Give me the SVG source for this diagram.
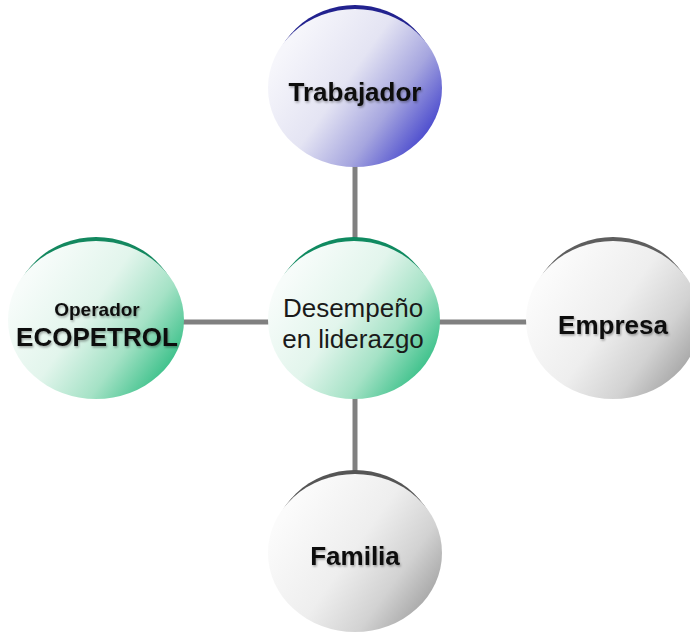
<svg xmlns="http://www.w3.org/2000/svg" width="690" height="634" viewBox="0 0 690 634">
<style>
.conn{stroke:#808080;stroke-width:5;fill:none}
.lbl{font-family:"Liberation Sans",Arial,sans-serif;font-weight:bold;font-size:26px;fill:#111;text-anchor:middle;filter:url(#sh)}
.ctr{font-family:"Liberation Sans",Arial,sans-serif;font-size:26px;fill:#1a1a1a;text-anchor:middle}
</style>
<defs>
<linearGradient id="gBlue" x1="0.1" y1="0.25" x2="0.95" y2="0.8">
<stop offset="0" stop-color="#f6f6fb"/>
<stop offset="0.4" stop-color="#e4e4f3"/>
<stop offset="0.7" stop-color="#a6a6df"/>
<stop offset="1" stop-color="#4343cc"/>
</linearGradient>
<linearGradient id="gGreen" x1="0.1" y1="0.25" x2="0.95" y2="0.8">
<stop offset="0" stop-color="#f7fcfa"/>
<stop offset="0.4" stop-color="#e2f5ec"/>
<stop offset="0.7" stop-color="#a5e2c6"/>
<stop offset="1" stop-color="#33be85"/>
</linearGradient>
<linearGradient id="gGray" x1="0.1" y1="0.25" x2="0.95" y2="0.8">
<stop offset="0" stop-color="#fbfbfb"/>
<stop offset="0.45" stop-color="#eeeeee"/>
<stop offset="0.75" stop-color="#d2d2d2"/>
<stop offset="1" stop-color="#a4a4a4"/>
</linearGradient>
<filter id="sh" x="-10%" y="-20%" width="120%" height="150%">
<feDropShadow dx="1" dy="1.5" stdDeviation="1" flood-color="#000" flood-opacity="0.35"/>
</filter>
</defs>

<g id="connectors">
<line class="conn" x1="355" y1="160" x2="355" y2="245"/>
<line class="conn" x1="180" y1="322" x2="275" y2="322"/>
<line class="conn" x1="435" y1="322" x2="532" y2="322"/>
<line class="conn" x1="355" y1="395" x2="355" y2="480"/>
</g>

<g id="trabajador">
<ellipse cx="355" cy="84" rx="83" ry="79" fill="#22228f"/>
<ellipse cx="355" cy="88" rx="87" ry="79" fill="url(#gBlue)"/>
<text class="lbl" x="355" y="101">Trabajador</text>
</g>

<g id="desempeno">
<ellipse cx="354" cy="316" rx="82" ry="79" fill="#0f8a60"/>
<ellipse cx="354" cy="320" rx="86" ry="79" fill="url(#gGreen)"/>
<text class="ctr" x="353" y="317">Desempeño</text>
<text class="ctr" x="353" y="348">en liderazgo</text>
</g>

<g id="operador">
<ellipse cx="96" cy="316" rx="84" ry="79" fill="#13885f"/>
<ellipse cx="96" cy="320" rx="88" ry="79" fill="url(#gGreen)"/>
<text class="lbl" x="97" y="316" style="font-size:19px">Operador</text>
<text class="lbl" x="97" y="346">ECOPETROL</text>
</g>

<g id="empresa">
<ellipse cx="613" cy="316" rx="83" ry="79" fill="#5e5e5e"/>
<ellipse cx="613" cy="320" rx="87" ry="79" fill="url(#gGray)"/>
<text class="lbl" x="613" y="334">Empresa</text>
</g>

<g id="familia">
<ellipse cx="355" cy="549" rx="83" ry="79" fill="#555555"/>
<ellipse cx="355" cy="553" rx="87" ry="79" fill="url(#gGray)"/>
<text class="lbl" x="355" y="565">Familia</text>
</g>
</svg>
